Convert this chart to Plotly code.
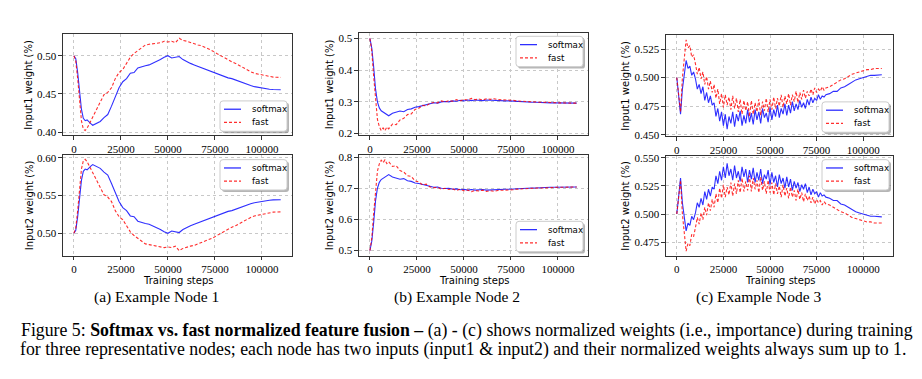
import plotly.graph_objects as go

W, H = 922, 379

# ---------------- data ----------------
steps = [0, 1000, 2000, 3000, 4000, 5000, 6000, 7000, 8000, 9000,
         10000, 12000, 14000, 16000, 18000, 20000, 22000, 24000, 26000, 28000,
         30000, 32000, 34000, 36000, 38000, 40000, 42000, 44000, 46000, 48000,
         50000, 52000, 54000, 56000, 58000, 60000, 62000, 64000, 66000, 68000,
         70000, 72000, 74000, 76000, 78000, 80000, 82000, 84000, 86000, 88000,
         90000, 92000, 94000, 96000, 98000, 100000, 102000, 104000, 106000, 108000,
         110000]

# node 3 is logged more densely (noisy curves)
steps_node3 = [0, 1000, 2000, 3000, 4000, 5000, 6000, 7000, 8000, 9000,
               10000, 11000, 12000, 13000, 14000, 15000, 16000, 17000, 18000, 19000,
               20000, 21000, 22000, 23000, 24000, 25000, 26000, 27000, 28000, 29000,
               30000, 31000, 32000, 33000, 34000, 35000, 36000, 37000, 38000, 39000,
               40000, 41000, 42000, 43000, 44000, 45000, 46000, 47000, 48000, 49000,
               50000, 51000, 52000, 53000, 54000, 55000, 56000, 57000, 58000, 59000,
               60000, 61000, 62000, 63000, 64000, 65000, 66000, 67000, 68000, 69000,
               70000, 71000, 72000, 73000, 74000, 75000, 76000, 77000, 78000, 79000,
               80000, 82000, 84000, 86000, 88000, 90000, 92000, 94000, 96000, 98000,
               100000, 102000, 104000, 106000, 108000, 110000]

x_tick_vals = [0, 25000, 50000, 75000, 100000]
x_tick_text = ["0", "25000", "50000", "75000", "100000"]

# Node 1
node1_input1_softmax = [0.500, 0.496, 0.478, 0.452, 0.430, 0.418, 0.415, 0.416, 0.413, 0.411,
                        0.409, 0.412, 0.414, 0.419, 0.423, 0.434, 0.447, 0.458, 0.466, 0.470,
                        0.477, 0.478, 0.484, 0.486, 0.487, 0.488, 0.490, 0.492, 0.495, 0.498,
                        0.500, 0.497, 0.498, 0.499, 0.495, 0.492, 0.490, 0.488, 0.486, 0.484,
                        0.483, 0.480, 0.478, 0.476, 0.474, 0.473, 0.471, 0.470, 0.468, 0.466,
                        0.4645, 0.463, 0.461, 0.4595, 0.4585, 0.4575, 0.4568, 0.4562, 0.4558, 0.4556,
                        0.4555]
node1_input1_fast = [0.500, 0.493, 0.470, 0.440, 0.415, 0.404, 0.402, 0.405, 0.410, 0.414,
                     0.420, 0.430, 0.440, 0.449, 0.452, 0.458, 0.470, 0.478, 0.482, 0.490,
                     0.498, 0.503, 0.507, 0.511, 0.514, 0.515, 0.516, 0.516, 0.517, 0.519,
                     0.518, 0.519, 0.517, 0.523, 0.520, 0.519, 0.517, 0.516, 0.514, 0.513,
                     0.511, 0.509, 0.506, 0.503, 0.500, 0.498, 0.495, 0.492, 0.490, 0.487,
                     0.484, 0.481, 0.479, 0.477, 0.476, 0.475, 0.4735, 0.4725, 0.472, 0.4718,
                     0.4716]
node1_input2_softmax = [0.500, 0.504, 0.522, 0.548, 0.570, 0.582, 0.585, 0.584, 0.587, 0.589,
                        0.591, 0.588, 0.586, 0.581, 0.577, 0.566, 0.553, 0.542, 0.534, 0.530,
                        0.523, 0.522, 0.516, 0.514, 0.513, 0.512, 0.510, 0.508, 0.505, 0.502,
                        0.500, 0.503, 0.502, 0.501, 0.505, 0.508, 0.510, 0.512, 0.514, 0.516,
                        0.517, 0.520, 0.522, 0.524, 0.526, 0.527, 0.529, 0.530, 0.532, 0.534,
                        0.5355, 0.537, 0.539, 0.5405, 0.5415, 0.5425, 0.5432, 0.5438, 0.5442, 0.5444,
                        0.5445]
node1_input2_fast = [0.500, 0.507, 0.530, 0.560, 0.585, 0.596, 0.598, 0.595, 0.590, 0.586,
                     0.580, 0.570, 0.560, 0.551, 0.548, 0.542, 0.530, 0.522, 0.518, 0.510,
                     0.502, 0.497, 0.493, 0.489, 0.486, 0.485, 0.484, 0.484, 0.483, 0.481,
                     0.482, 0.481, 0.483, 0.477, 0.480, 0.481, 0.483, 0.484, 0.486, 0.487,
                     0.489, 0.491, 0.494, 0.497, 0.500, 0.502, 0.505, 0.508, 0.510, 0.513,
                     0.516, 0.519, 0.521, 0.523, 0.524, 0.525, 0.5265, 0.5275, 0.528, 0.5282,
                     0.5284]

# Node 2
node2_input1_softmax = [0.500, 0.470, 0.410, 0.340, 0.300, 0.281, 0.272, 0.268, 0.265, 0.261,
                        0.256, 0.264, 0.268, 0.271, 0.269, 0.276, 0.278, 0.283, 0.285, 0.288,
                        0.292, 0.295, 0.297, 0.296, 0.300, 0.301, 0.300, 0.303, 0.302, 0.305,
                        0.303, 0.306, 0.304, 0.306, 0.305, 0.304, 0.306, 0.305, 0.304, 0.305,
                        0.304, 0.303, 0.303, 0.302, 0.302, 0.301, 0.300, 0.300, 0.299, 0.299,
                        0.298, 0.298, 0.298, 0.297, 0.297, 0.297, 0.296, 0.296, 0.296, 0.296,
                        0.296]
node2_input1_fast = [0.500, 0.460, 0.380, 0.300, 0.245, 0.222, 0.210, 0.218, 0.209, 0.221,
                     0.215, 0.230, 0.228, 0.243, 0.248, 0.260, 0.262, 0.276, 0.280, 0.289,
                     0.287, 0.296, 0.298, 0.297, 0.303, 0.300, 0.304, 0.302, 0.307, 0.303,
                     0.308, 0.306, 0.311, 0.307, 0.309, 0.306, 0.310, 0.308, 0.310, 0.307,
                     0.307, 0.306, 0.305, 0.305, 0.303, 0.302, 0.302, 0.301, 0.300, 0.300,
                     0.299, 0.299, 0.298, 0.298, 0.297, 0.297, 0.297, 0.296, 0.296, 0.296,
                     0.296]
node2_input2_softmax = [0.500, 0.530, 0.590, 0.660, 0.700, 0.719, 0.728, 0.732, 0.735, 0.739,
                        0.744, 0.736, 0.732, 0.729, 0.731, 0.724, 0.722, 0.717, 0.715, 0.712,
                        0.708, 0.705, 0.703, 0.704, 0.700, 0.699, 0.700, 0.697, 0.698, 0.695,
                        0.697, 0.694, 0.696, 0.694, 0.695, 0.696, 0.694, 0.695, 0.696, 0.695,
                        0.696, 0.697, 0.697, 0.698, 0.698, 0.699, 0.700, 0.700, 0.701, 0.701,
                        0.702, 0.702, 0.702, 0.703, 0.703, 0.703, 0.704, 0.704, 0.704, 0.704,
                        0.704]
node2_input2_fast = [0.500, 0.540, 0.620, 0.700, 0.755, 0.778, 0.790, 0.782, 0.791, 0.779,
                     0.785, 0.770, 0.772, 0.757, 0.752, 0.740, 0.738, 0.724, 0.720, 0.711,
                     0.713, 0.704, 0.702, 0.703, 0.697, 0.700, 0.696, 0.698, 0.693, 0.697,
                     0.692, 0.694, 0.689, 0.693, 0.691, 0.694, 0.690, 0.692, 0.690, 0.693,
                     0.693, 0.694, 0.695, 0.695, 0.697, 0.698, 0.698, 0.699, 0.700, 0.700,
                     0.701, 0.701, 0.702, 0.702, 0.703, 0.703, 0.703, 0.704, 0.704, 0.704,
                     0.704]

# Node 3 (values at steps_node3)
node3_input1_softmax = [0.500, 0.485, 0.468, 0.490, 0.505, 0.515, 0.508, 0.510, 0.502, 0.505,
                        0.499, 0.490, 0.494, 0.486, 0.492, 0.480, 0.487, 0.478, 0.484, 0.476,
                        0.478, 0.466, 0.473, 0.462, 0.470, 0.458, 0.468, 0.455, 0.466, 0.460,
                        0.470, 0.457, 0.468, 0.462, 0.471, 0.458, 0.467, 0.460, 0.472, 0.461,
                        0.469, 0.459, 0.472, 0.463, 0.470, 0.460, 0.473, 0.465, 0.469, 0.461,
                        0.474, 0.463, 0.472, 0.466, 0.476, 0.465, 0.473, 0.468, 0.477, 0.467,
                        0.476, 0.469, 0.479, 0.471, 0.477, 0.472, 0.480, 0.474, 0.478, 0.473,
                        0.481, 0.476, 0.483, 0.478, 0.482, 0.480, 0.485, 0.481, 0.484, 0.483,
                        0.485, 0.486, 0.488, 0.488, 0.491, 0.492, 0.494, 0.496, 0.498, 0.499,
                        0.500, 0.501, 0.502, 0.502, 0.5025, 0.5025]
node3_input1_fast = [0.500, 0.487, 0.470, 0.500, 0.520, 0.533, 0.526, 0.528, 0.518, 0.520,
                     0.512, 0.503, 0.509, 0.499, 0.505, 0.494, 0.501, 0.490, 0.497, 0.487,
                     0.494, 0.482, 0.490, 0.477, 0.486, 0.474, 0.485, 0.476, 0.483, 0.472,
                     0.484, 0.473, 0.482, 0.470, 0.481, 0.468, 0.480, 0.471, 0.479, 0.466,
                     0.480, 0.468, 0.478, 0.470, 0.481, 0.467, 0.479, 0.471, 0.482, 0.470,
                     0.481, 0.472, 0.483, 0.473, 0.482, 0.475, 0.485, 0.474, 0.484, 0.477,
                     0.486, 0.476, 0.485, 0.479, 0.488, 0.478, 0.487, 0.481, 0.489, 0.482,
                     0.488, 0.484, 0.490, 0.485, 0.491, 0.487, 0.490, 0.488, 0.492, 0.489,
                     0.491, 0.492, 0.494, 0.496, 0.498, 0.499, 0.501, 0.503, 0.504, 0.505,
                     0.506, 0.507, 0.507, 0.508, 0.508, 0.508]
node3_input2_softmax = [0.500, 0.515, 0.532, 0.510, 0.495, 0.485, 0.492, 0.490, 0.498, 0.495,
                        0.501, 0.510, 0.506, 0.514, 0.508, 0.520, 0.513, 0.522, 0.516, 0.524,
                        0.522, 0.534, 0.527, 0.538, 0.530, 0.542, 0.532, 0.545, 0.534, 0.540,
                        0.530, 0.543, 0.532, 0.538, 0.529, 0.542, 0.533, 0.540, 0.528, 0.539,
                        0.531, 0.541, 0.528, 0.537, 0.530, 0.540, 0.527, 0.535, 0.531, 0.539,
                        0.526, 0.537, 0.528, 0.534, 0.524, 0.535, 0.527, 0.532, 0.523, 0.533,
                        0.524, 0.531, 0.521, 0.529, 0.523, 0.528, 0.520, 0.526, 0.522, 0.527,
                        0.519, 0.524, 0.517, 0.522, 0.518, 0.520, 0.515, 0.519, 0.516, 0.517,
                        0.515, 0.514, 0.512, 0.512, 0.509, 0.508, 0.506, 0.504, 0.502, 0.501,
                        0.500, 0.499, 0.498, 0.498, 0.4975, 0.4975]
node3_input2_fast = [0.500, 0.513, 0.530, 0.500, 0.480, 0.467, 0.474, 0.472, 0.482, 0.480,
                     0.488, 0.497, 0.491, 0.501, 0.495, 0.506, 0.499, 0.510, 0.503, 0.513,
                     0.506, 0.518, 0.510, 0.523, 0.514, 0.526, 0.515, 0.524, 0.517, 0.528,
                     0.516, 0.527, 0.518, 0.530, 0.519, 0.532, 0.520, 0.529, 0.521, 0.534,
                     0.520, 0.532, 0.522, 0.530, 0.519, 0.533, 0.521, 0.529, 0.518, 0.530,
                     0.519, 0.528, 0.517, 0.527, 0.518, 0.525, 0.515, 0.526, 0.516, 0.523,
                     0.514, 0.524, 0.515, 0.521, 0.512, 0.522, 0.513, 0.519, 0.511, 0.518,
                     0.512, 0.516, 0.510, 0.515, 0.509, 0.513, 0.510, 0.512, 0.508, 0.511,
                     0.509, 0.508, 0.506, 0.504, 0.502, 0.501, 0.499, 0.497, 0.496, 0.495,
                     0.494, 0.493, 0.493, 0.492, 0.492, 0.492]

yticks_n1_in1 = [0.40, 0.45, 0.50]
yticks_n1_in2 = [0.50, 0.55, 0.60]
yticks_n2_in1 = [0.2, 0.3, 0.4, 0.5]
yticks_n2_in2 = [0.5, 0.6, 0.7, 0.8]
yticks_n3_in1 = [0.450, 0.475, 0.500, 0.525]
yticks_n3_in2 = [0.475, 0.500, 0.525, 0.550]

series_names = ["softmax", "fast"]
subcaptions = ["(a) Example Node 1", "(b) Example Node 2", "(c) Example Node 3"]
caption_line1 = ("Figure 5: <b>Softmax vs. fast normalized feature fusion –</b> (a) - (c) shows normalized "
                 "weights (i.e., importance) during training")
caption_line2 = ("for three representative nodes; each node has two inputs (input1 &amp; input2) and their "
                 "normalized weights always sum up to 1.")

for arr in [node1_input1_softmax, node1_input1_fast, node1_input2_softmax, node1_input2_fast,
            node2_input1_softmax, node2_input1_fast, node2_input2_softmax, node2_input2_fast]:
    assert len(arr) == len(steps), len(arr)
for arr in [node3_input1_softmax, node3_input1_fast, node3_input2_softmax, node3_input2_fast]:
    assert len(arr) == len(steps_node3), len(arr)

# ---------------- layout helpers ----------------
BLUE = "rgba(0,0,255,0.82)"
RED = "rgba(255,0,0,0.82)"
TICK_FONT = dict(family="Liberation Serif", size=11, color="black")
SANS = "DejaVu Sans"
SERIF = "Liberation Serif"


def fx(px):
    return px / W


def fy(py):
    return 1 - py / H


# (x, soft, fast, box px (l, r, t, b), y range, y ticks, tick fmt, ylabel, legend box px (l, t), label x)
panels = [
    (steps, node1_input1_softmax, node1_input1_fast, (63, 292, 31, 134), (0.396, 0.528), yticks_n1_in1, ".2f",
     "Input1 weight (%)", (220, 99), 29),
    (steps, node1_input2_softmax, node1_input2_fast, (63, 292, 154, 257), (0.4705, 0.604), yticks_n1_in2, ".2f",
     "Input2 weight (%)", (220, 159), 29),
    (steps, node2_input1_softmax, node2_input1_fast, (359, 588, 30, 134), (0.195, 0.516), yticks_n2_in1, ".1f",
     "Input1 weight (%)", (516, 33), 329),
    (steps, node2_input2_softmax, node2_input2_fast, (359, 588, 154, 257), (0.484, 0.8075), yticks_n2_in2, ".1f",
     "Input2 weight (%)", (516, 222), 329),
    (steps_node3, node3_input1_softmax, node3_input1_fast, (666, 893, 32, 135), (0.4488, 0.537), yticks_n3_in1,
     ".3f", "Input1 weight (%)", (822, 100), 626),
    (steps_node3, node3_input2_softmax, node3_input2_fast, (666, 893, 155, 257), (0.4631, 0.5518), yticks_n3_in2,
     ".3f", "Input2 weight (%)", (822, 159), 626),
]

fig = go.Figure()
shapes = []
annotations = []


def rounded(l, t, r, b, rad=3):
    pts = [f"M{fx(l + rad)},{fy(t)}", f"L{fx(r - rad)},{fy(t)}",
           f"Q{fx(r)},{fy(t)} {fx(r)},{fy(t + rad)}", f"L{fx(r)},{fy(b - rad)}",
           f"Q{fx(r)},{fy(b)} {fx(r - rad)},{fy(b)}", f"L{fx(l + rad)},{fy(b)}",
           f"Q{fx(l)},{fy(b)} {fx(l)},{fy(b - rad)}", f"L{fx(l)},{fy(t + rad)}",
           f"Q{fx(l)},{fy(t)} {fx(l + rad)},{fy(t)}"]
    return " ".join(pts) + " Z"


def text(t, x, y, size, family=SANS, xanchor="center", angle=0):
    annotations.append(dict(text=t, x=fx(x), y=fy(y), xref="paper", yref="paper", showarrow=False,
                            xanchor=xanchor, yanchor="middle", textangle=angle,
                            font=dict(family=family, size=size, color="black")))


for i, (xs, soft, fast, box, yr, yt, fmt, ylabel, leg, labx) in enumerate(panels, start=1):
    sfx = "" if i == 1 else str(i)
    xa, ya = "x" + sfx, "y" + sfx
    fig.add_trace(go.Scatter(x=xs, y=soft, mode="lines", name=series_names[0],
                             line=dict(color=BLUE, width=1.1), xaxis=xa, yaxis=ya, showlegend=False))
    fig.add_trace(go.Scatter(x=xs, y=fast, mode="lines", name=series_names[1],
                             line=dict(color=RED, width=1.1, dash="3px,2px"), xaxis=xa, yaxis=ya,
                             showlegend=False))
    l, r, t, b = box
    common = dict(showline=True, mirror=True, linecolor="#333333", linewidth=1.3,
                  ticks="outside", ticklen=3.5, tickwidth=1, tickcolor="#333333",
                  showgrid=True, gridcolor="#c8c8c8", griddash="dot", gridwidth=0.8,
                  zeroline=False, tickfont=TICK_FONT)
    fig.update_layout(**{
        "xaxis" + sfx: dict(domain=[fx(l), fx(r)], range=[-5800, 116000], anchor=ya,
                            tickmode="array", tickvals=x_tick_vals, ticktext=x_tick_text, **common),
        "yaxis" + sfx: dict(domain=[fy(b), fy(t)], range=list(yr), anchor=xa,
                            tickmode="array", tickvals=yt, tickformat=fmt, **common),
    })
    text(ylabel, labx, (t + b) / 2, 10, angle=-90)
    # legend (drawn manually, matplotlib style)
    ll, lt = leg
    lr, lb = ll + 67, lt + 31
    shapes.append(dict(type="path", path=rounded(ll + 2, lt + 2, lr + 2, lb + 2), xref="paper", yref="paper",
                       fillcolor="rgba(120,120,120,0.55)", line=dict(width=0), layer="above"))
    shapes.append(dict(type="path", path=rounded(ll, lt, lr, lb), xref="paper", yref="paper",
                       fillcolor="white", line=dict(color="#cccccc", width=1), layer="above"))
    for k, (nm, col, dash) in enumerate([(series_names[0], BLUE, "solid"), (series_names[1], RED, "3px,2px")]):
        yy = lt + 8.5 + k * 13.5
        shapes.append(dict(type="line", x0=fx(ll + 4), x1=fx(ll + 21), y0=fy(yy), y1=fy(yy),
                           xref="paper", yref="paper", line=dict(color=col, width=1.3, dash=dash),
                           layer="above"))
        text(nm, ll + 30, yy, 8.7, xanchor="left")

# x-axis titles and subcaptions
for cx, scx, cap in [(177.5, 156, subcaptions[0]), (473.5, 457, subcaptions[1]), (779.5, 758, subcaptions[2])]:
    text("Training steps", cx, 282, 10)
    text(cap, scx, 299, 15.5, family=SERIF)

# figure caption
text(caption_line1, 19, 334, 17.8, family=SERIF, xanchor="left")
text(caption_line2, 18, 353, 17.8, family=SERIF, xanchor="left")

fig.update_layout(width=W, height=H, margin=dict(l=0, r=0, t=0, b=0),
                  paper_bgcolor="white", plot_bgcolor="white",
                  shapes=shapes, annotations=annotations, showlegend=False)

fig.write_html("out.html", config={"displayModeBar": False},
               post_script="document.body.style.margin='0px';document.body.style.overflow='hidden';")
